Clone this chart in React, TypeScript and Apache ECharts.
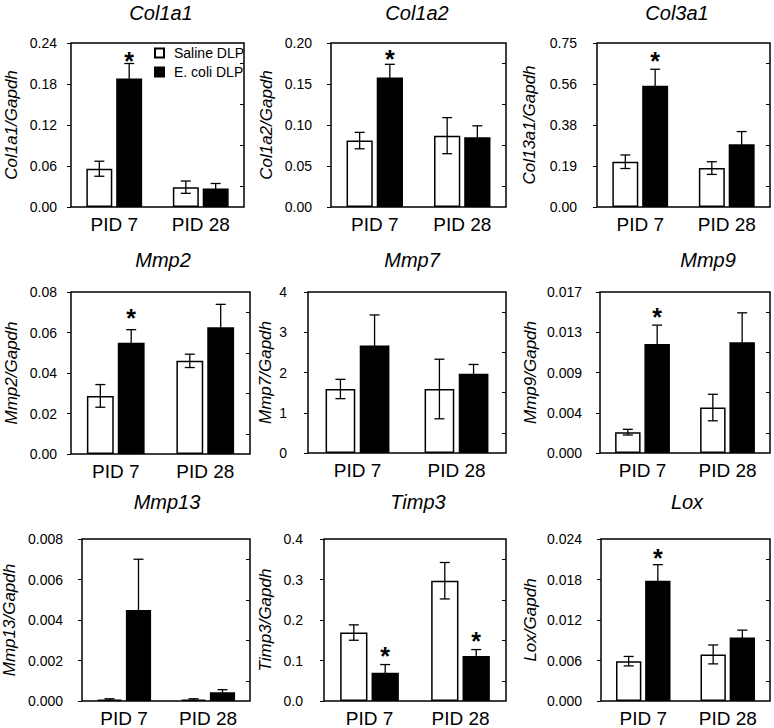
import React, { useEffect, useRef } from 'react';
import * as echarts from 'echarts';

// ---------- data ----------
const categories = ['PID 7', 'PID 28'];
const seriesNames = ['Saline DLP', 'E. coli DLP'];
const genes = ['Col1a1', 'Col1a2', 'Col3a1', 'Mmp2', 'Mmp7', 'Mmp9', 'Mmp13', 'Timp3', 'Lox'];
const yAxisNames = [
  'Col1a1/Gapdh', 'Col1a2/Gapdh', 'Col13a1/Gapdh',
  'Mmp2/Gapdh', 'Mmp7/Gapdh', 'Mmp9/Gapdh',
  'Mmp13/Gapdh', 'Timp3/Gapdh', 'Lox/Gapdh',
];

const salineMean = [
  [0.056, 0.029], [0.081, 0.087], [0.207, 0.178],
  [0.0287, 0.046], [1.59, 1.59], [0.0022, 0.0048],
  [0.00007, 0.00007], [0.169, 0.297], [0.0059, 0.0069],
];
const salineErr = [
  [0.011, 0.009], [0.010, 0.022], [0.031, 0.029],
  [0.0056, 0.0033], [0.24, 0.74], [0.0003, 0.0014],
  [0.00004, 0.00004], [0.019, 0.045], [0.0007, 0.0014],
];
const ecoliMean = [
  [0.188, 0.027], [0.158, 0.085], [0.555, 0.287],
  [0.055, 0.0626], [2.67, 1.97], [0.0115, 0.0117],
  [0.0045, 0.00043], [0.070, 0.111], [0.0178, 0.0094],
];
const ecoliErr = [
  [0.022, 0.0074], [0.016, 0.014], [0.075, 0.058],
  [0.0064, 0.0113], [0.76, 0.23], [0.002, 0.0031],
  [0.0025, 0.00013], [0.020, 0.016], [0.0024, 0.0011],
];
const ecoliStar = [
  [true, false], [true, false], [true, false],
  [true, false], [false, false], [true, false],
  [false, false], [true, true], [true, false],
];

const axisMax = [0.24, 0.2, 0.75, 0.08, 4, 0.017, 0.008, 0.4, 0.024];
const axisInterval = [0.06, 0.05, 0.1875, 0.02, 1, 0.00425, 0.002, 0.1, 0.006];
const tickLabels = [
  ['0.00', '0.06', '0.12', '0.18', '0.24'],
  ['0.00', '0.05', '0.10', '0.15', '0.20'],
  ['0.00', '0.19', '0.38', '0.56', '0.75'],
  ['0.00', '0.02', '0.04', '0.06', '0.08'],
  ['0', '1', '2', '3', '4'],
  ['0.000', '0.004', '0.009', '0.013', '0.017'],
  ['0.000', '0.002', '0.004', '0.006', '0.008'],
  ['0.0', '0.1', '0.2', '0.3', '0.4'],
  ['0.000', '0.006', '0.012', '0.018', '0.024'],
];

// ---------- layout (positions / styles) ----------
const panels = [
  { left: 71, right: 244, top: 43, bottom: 207, titleX: 161, titleTop: 3, nameGap: 51, labelMargin: 14, starGap: 8 },
  { left: 331, right: 506, top: 43, bottom: 207, titleX: 417, titleTop: 3, nameGap: 56, labelMargin: 19, starGap: 10 },
  { left: 597, right: 770, top: 43, bottom: 207, titleX: 677, titleTop: 3, nameGap: 59, labelMargin: 20, starGap: 13 },
  { left: 71, right: 250, top: 292, bottom: 454, titleX: 163, titleTop: 250, nameGap: 51, labelMargin: 14, starGap: 17 },
  { left: 308, right: 506, top: 292, bottom: 453, titleX: 412, titleTop: 250, nameGap: 34, labelMargin: 21, starGap: 12 },
  { left: 600, right: 770, top: 292, bottom: 453, titleX: 708, titleTop: 250, nameGap: 61, labelMargin: 18, starGap: 13 },
  { left: 82, right: 250, top: 539, bottom: 701, titleX: 167, titleTop: 492, nameGap: 64, labelMargin: 19, starGap: 12 },
  { left: 324, right: 506, top: 539, bottom: 701, titleX: 418, titleTop: 492, nameGap: 50, labelMargin: 21, starGap: 14 },
  { left: 601, right: 770, top: 539, bottom: 701, titleX: 687, titleTop: 492, nameGap: 62, labelMargin: 19, starGap: 12 },
];

const FONT = '"Liberation Sans", Arial, Helvetica, sans-serif';
const BAR_W = 0.3;
const BAR_GAP = 0.15;
const STAR_SIZE = 25;

function makeRender(side: number, starGap: number) {
  return (params: any, api: any) => {
    const k = api.value(0);
    const mean = api.value(1);
    const err = api.value(2);
    const star = api.value(3);
    const base = api.coord([k, mean]);
    const band = api.size([1, 0])[0];
    const x = base[0] + (side * band * BAR_W * (1 + BAR_GAP)) / 2;
    const yTop = api.coord([k, mean + err])[1];
    const yBot = api.coord([k, Math.max(0, mean - err)])[1];
    const cap = 5;
    const style = { stroke: '#000', lineWidth: 1.3, fill: null };
    const children: any[] = [
      { type: 'line', shape: { x1: x, y1: yTop, x2: x, y2: yBot }, style },
      { type: 'line', shape: { x1: x - cap, y1: yTop, x2: x + cap, y2: yTop }, style },
      { type: 'line', shape: { x1: x - cap, y1: yBot, x2: x + cap, y2: yBot }, style },
    ];
    if (star) {
      children.push({
        type: 'text',
        x,
        y: yTop - starGap + STAR_SIZE * 0.2,
        style: {
          text: '*',
          fill: '#000',
          font: `bold ${STAR_SIZE}px ${FONT}`,
          align: 'center',
          verticalAlign: 'middle',
        },
      });
    }
    return { type: 'group', children };
  };
}

function buildOption() {
  const minorSlots = Array.from({ length: 9 }, (_, k) => String(k));
  const grid = panels.map((p) => ({
    left: p.left,
    top: p.top,
    width: p.right - p.left,
    height: p.bottom - p.top,
    show: true,
    borderColor: '#000',
    borderWidth: 1.5,
    backgroundColor: 'transparent',
  }));
  const xAxis = panels.map((p, i) => ({
    type: 'category',
    gridIndex: i,
    data: categories,
    axisLine: { show: false },
    axisTick: { show: false },
    splitLine: { show: false },
    axisLabel: { color: '#000', fontSize: 19, fontFamily: FONT, margin: 8 },
  }));
  const yMain = panels.map((p, i) => ({
    type: 'value',
    gridIndex: i,
    min: 0,
    max: axisMax[i],
    interval: axisInterval[i],
    name: yAxisNames[i],
    nameLocation: 'middle',
    nameGap: p.nameGap,
    nameTextStyle: { color: '#000', fontSize: 17, fontStyle: 'italic', fontWeight: 400, fontFamily: FONT },
    axisLine: { show: false },
    axisTick: { show: true, inside: false, length: 4, lineStyle: { color: '#000', width: 1 } },
    splitLine: { show: false },
    axisLabel: {
      color: '#000',
      fontSize: 14,
      fontFamily: FONT,
      margin: p.labelMargin,
      formatter: (v: number) => tickLabels[i][Math.round(v / axisInterval[i])] ?? '',
    },
  }));
  const yMinor = panels.map((p, i) => ({
    type: 'category',
    gridIndex: i,
    boundaryGap: false,
    data: minorSlots,
    axisLine: { show: false },
    axisLabel: { show: false },
    splitLine: { show: false },
    axisTick: {
      show: true,
      inside: true,
      length: 4,
      interval: (idx: number) => idx % 2 === 1,
      lineStyle: { color: '#000', width: 1 },
    },
  }));

  const series: any[] = [];
  panels.forEach((p, i) => {
    const groups = [
      { mean: salineMean[i], err: salineErr[i], star: [false, false], color: '#fff', side: -1 },
      { mean: ecoliMean[i], err: ecoliErr[i], star: ecoliStar[i], color: '#000', side: 1 },
    ];
    groups.forEach((g, gi) => {
      series.push({
        type: 'bar',
        name: seriesNames[gi],
        xAxisIndex: i,
        yAxisIndex: i,
        data: g.mean,
        barWidth: `${BAR_W * 100}%`,
        barGap: `${BAR_GAP * 100}%`,
        itemStyle: { color: g.color, borderColor: '#000', borderWidth: 1.5 },
        emphasis: { disabled: true },
        z: 2,
      });
    });
    groups.forEach((g) => {
      series.push({
        type: 'custom',
        xAxisIndex: i,
        yAxisIndex: i,
        silent: true,
        z: 3,
        data: categories.map((_, k) => [k, g.mean[k], g.err[k], g.star[k] ? 1 : 0]),
        renderItem: makeRender(g.side, p.starGap),
      });
    });
  });

  return {
    animation: false,
    backgroundColor: '#fff',
    textStyle: { fontFamily: FONT },
    title: panels.map((p, i) => ({
      text: genes[i],
      left: p.titleX,
      top: p.titleTop,
      textAlign: 'center',
      padding: 0,
      textStyle: { color: '#000', fontSize: 20, fontStyle: 'italic', fontWeight: 400, fontFamily: FONT },
    })),
    legend: {
      data: seriesNames,
      orient: 'vertical',
      left: 154,
      top: 46,
      padding: 0,
      itemWidth: 9,
      itemHeight: 9,
      itemGap: 5,
      icon: 'rect',
      selectedMode: false,
      textStyle: { color: '#000', fontSize: 14, fontFamily: FONT, padding: [0, 0, 0, 5] },
    },
    grid,
    xAxis,
    yAxis: [...yMain, ...yMinor],
    series,
  };
}

export default function App() {
  const ref = useRef<HTMLDivElement>(null);
  useEffect(() => {
    const chart = echarts.init(ref.current as HTMLDivElement, null, { renderer: 'svg' });
    chart.setOption(buildOption() as any);
    return () => chart.dispose();
  }, []);
  return (
    <div
      ref={ref}
      style={{ position: 'absolute', left: 0, top: 0, width: 774, height: 728, background: '#fff' }}
    />
  );
}
